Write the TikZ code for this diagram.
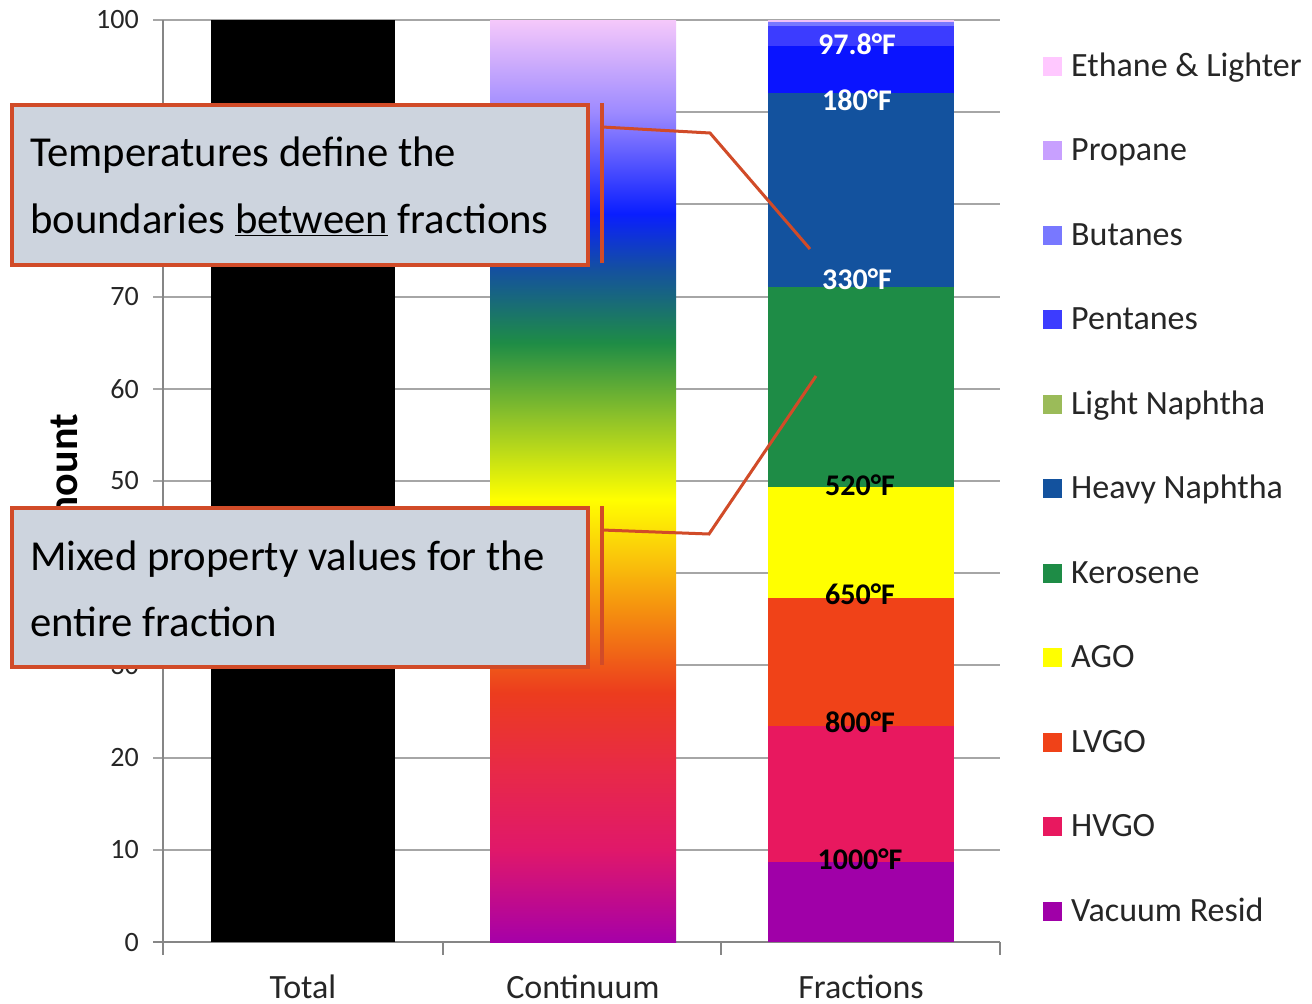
\documentclass[tikz,border=0pt]{standalone}
\usepackage{fontspec}
\setmainfont{Carlito}
\definecolor{gridgray}{HTML}{A6A6A6}
\definecolor{axisgray}{HTML}{868686}
\definecolor{labgray}{HTML}{262626}
\definecolor{callred}{HTML}{D14B28}
\definecolor{callfill}{HTML}{CDD4DE}
% fraction / legend colours
\definecolor{fEth}{HTML}{FFC8FF}
\definecolor{fPro}{HTML}{C8A0FF}
\definecolor{fBut}{HTML}{7878FF}
\definecolor{fPen}{HTML}{3C3CFF}
\definecolor{fLN}{HTML}{9BBB59}
\definecolor{fHN}{HTML}{13529E}
\definecolor{fKer}{HTML}{1E8C46}
\definecolor{fAGO}{HTML}{FFFF00}
\definecolor{fLV}{HTML}{F04218}
\definecolor{fHV}{HTML}{E8185F}
\definecolor{fVR}{HTML}{A000A8}
\definecolor{fBlue}{HTML}{0A14FF}
\definecolor{fTop}{HTML}{F0C0F8}
% continuum stops
\definecolor{q0}{HTML}{A600A8}
\definecolor{q1}{HTML}{E0186A}
\definecolor{q2}{HTML}{E82A46}
\definecolor{q3}{HTML}{EC3C1E}
\definecolor{q4}{HTML}{F5900F}
\definecolor{q5}{HTML}{FAC80A}
\definecolor{q6}{HTML}{FFFF00}
\definecolor{q7}{HTML}{8CC12A}
\definecolor{q8}{HTML}{1E8C46}
\definecolor{q9}{HTML}{1450A0}
\definecolor{q10}{HTML}{0A1EFF}
\definecolor{q11}{HTML}{9D8AFF}
\definecolor{q12}{HTML}{F5C8FA}
\pgfdeclareverticalshading{contshade}{100bp}{color(0bp)=(q0); color(25bp)=(q0); color(30bp)=(q1); color(34.5bp)=(q2); color(38.5bp)=(q3); color(43bp)=(q4); color(46bp)=(q5); color(49bp)=(q6); color(53.5bp)=(q7); color(57.5bp)=(q8); color(61.5bp)=(q9); color(64.5bp)=(q10); color(70bp)=(q11); color(75bp)=(q12); color(100bp)=(q12)}
\begin{document}
\begin{tikzpicture}[x=1pt,y=-1pt,
  grid/.style={draw=gridgray,line width=2pt},
  axisline/.style={draw=axisgray,line width=2pt},
  ticklab/.style={anchor=east,text=labgray,font=\fontsize{28}{30}\selectfont,inner sep=0pt},
  catlab/.style={anchor=base,text=labgray,font=\fontsize{34}{36}\selectfont,inner sep=0pt},
  leglab/.style={anchor=base west,text=labgray,font=\fontsize{34}{36}\selectfont,inner sep=0pt},
  legsq/.style={minimum size=19pt,inner sep=0pt,draw=none},
  templab/.style={font=\bfseries\fontsize{30}{32}\selectfont,inner sep=0pt},
  callbox/.style={draw=callred,line width=4pt,fill=callfill,inner sep=0pt},
  boxtext/.style={anchor=base west,font=\fontsize{42.7}{50}\selectfont,inner sep=0pt},
  leader/.style={draw=callred,line width=3pt},
  accent/.style={draw=callred,line width=4pt}
]
\useasboundingbox[fill=white] (0,0) rectangle (1312,1004);

% gridlines and y ticks
\foreach \k in {1,...,10}{
  \pgfmathsetmacro{\yy}{942-92.2*\k}
  \draw[grid] (153,\yy) -- (1000,\yy);
}
% axes
\draw[axisline] (163,20) -- (163,955);
\draw[axisline] (153,942) -- (1000,942);
\foreach \xx in {443,721,1000}{
  \draw[axisline] (\xx,942) -- (\xx,955);
}

% bars
\fill[black] (211,942) rectangle (395,20);
\shade[shading=contshade] (490,942) rectangle (676,20);
\fill[fVR]  (768,942) rectangle (954,862);
\fill[fHV]  (768,862) rectangle (954,726);
\fill[fLV]  (768,726) rectangle (954,598);
\fill[fAGO] (768,598) rectangle (954,487);
\fill[fKer] (768,487) rectangle (954,287);
\fill[fHN]  (768,287) rectangle (954,93);
\fill[fBlue](768,93)  rectangle (954,46);
\fill[fPen] (768,46)  rectangle (954,26);
\fill[fBut] (768,26)  rectangle (954,22);
\fill[fTop] (768,22)  rectangle (954,20);

% tick labels (90, 80 and 40 are hidden behind the callouts)
\foreach \k in {0,1,2,3,5,6,7,10}{
  \pgfmathsetmacro{\yy}{942-92.2*\k}
  \pgfmathtruncatemacro{\vv}{10*\k}
  \node[ticklab] (tl\k) at (139,\yy) {\vv};
}

% category labels
\node[catlab] (catTotal) at (303,998) {Total};
\node[catlab] (catCont) at (583,998) {Continuum};
\node[catlab] (catFrac) at (861,998) {Fractions};

% axis title
\node[rotate=90,anchor=base,inner sep=0pt,font=\bfseries\fontsize{42}{44}\selectfont] (ytitle) at (77,485) {Amount};

% temperature labels
\node[templab,text=white] (t1) at (857,44) {97.8°F};
\node[templab,text=white] (t2) at (857,100) {180°F};
\node[templab,text=white] (t3) at (857,279) {330°F};
\node[templab,text=black] (t4) at (860,485) {520°F};
\node[templab,text=black] (t5) at (860,594) {650°F};
\node[templab,text=black] (t6) at (860,722) {800°F};
\node[templab,text=black] (t7) at (860,859) {1000°F};

% legend
\foreach \c/\lab [count=\i from 0] in {fEth/Ethane \& Lighter,fPro/Propane,fBut/Butanes,fPen/Pentanes,fLN/Light Naphtha,fHN/Heavy Naphtha,fKer/Kerosene,fAGO/AGO,fLV/LVGO,fHV/HVGO,fVR/Vacuum Resid}{
  \pgfmathsetmacro{\ly}{66+84.5*\i}
  \node[legsq,fill=\c] (lsq\i) at (1052,\ly) {};
  \node[leglab] (llab\i) at (1071,\ly+10) {\lab};
}

% callout 1
\node[callbox,minimum width=576pt,minimum height=160pt,anchor=north west] (box1) at (10,103) {};
\node[boxtext] (b1l1) at (30,166) {Temperatures define the};
\node[boxtext] (b1l2) at (30,233) {boundaries \underline{between} fractions};
\coordinate (a1t) at (602,103);
\coordinate (a1b) at (602,263);
\draw[accent] (a1t) -- (a1b);
\coordinate (l1s) at (602,127);
\coordinate (l1m) at (710,133);
\coordinate (l1e) at (810,249);
\draw[leader] (l1s) -- (l1m) -- (l1e);

% callout 2
\node[callbox,minimum width=576pt,minimum height=159pt,anchor=north west] (box2) at (10,506) {};
\node[boxtext] (b2l1) at (30,570) {Mixed property values for the};
\node[boxtext] (b2l2) at (30,636) {entire fraction};
\coordinate (a2t) at (602,506);
\coordinate (a2b) at (602,665);
\draw[accent] (a2t) -- (a2b);
\coordinate (l2s) at (602,530);
\coordinate (l2m) at (709,534);
\coordinate (l2e) at (816,376);
\draw[leader] (l2s) -- (l2m) -- (l2e);
\end{tikzpicture}
\end{document}
